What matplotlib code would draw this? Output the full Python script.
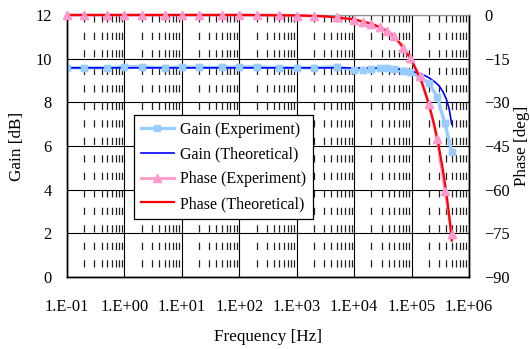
import matplotlib
matplotlib.use("Agg")
import matplotlib.pyplot as plt
from matplotlib.ticker import FixedLocator, NullFormatter, LogLocator

# ---- data ----
freq_exp = [0.1, 0.2, 0.5, 1, 2, 5, 10, 20, 50, 100, 200, 500, 1000, 2000, 5000,
            10000, 14000, 20000, 28000, 38000, 50000, 70000, 95000, 140000,
            200000, 280000, 380000, 500000]
gain_exp = [9.58, 9.58, 9.58, 9.63, 9.63, 9.58, 9.63, 9.60, 9.60, 9.63, 9.63, 9.58,
            9.58, 9.58, 9.63, 9.48, 9.48, 9.51, 9.56, 9.56, 9.51, 9.45, 9.40, 9.14,
            8.88, 8.25, 7.05, 5.73]
phase_exp = [0, 0, 0, 0, 0, 0, 0, 0, 0, 0, 0, 0, -0.2, -0.3, -0.6,
             -1.6, -2.4, -3.0, -4.2, -5.4, -7.1, -11.3, -14.8, -21.1,
             -30.6, -42.6, -60.4, -75.1]

freq_th = [0.1, 1, 10, 100, 1000, 3000, 10000, 20000, 30000, 50000, 60000, 70000,
           100000, 150000, 200000, 250000, 300000, 350000, 400000, 450000, 500000]
gain_th = [9.58, 9.58, 9.58, 9.58, 9.58, 9.58, 9.58, 9.58, 9.57, 9.54, 9.52, 9.50,
           9.43, 9.30, 9.13, 8.95, 8.76, 8.50, 8.17, 7.72, 7.00]
phase_th = [0, 0, 0, 0, -0.15, -0.45, -1.5, -3.0, -4.5, -7.6, -9.2, -10.8,
            -15.5, -23.0, -30.5, -38.0, -45.5, -53.0, -60.5, -68.5, -77.5]

x_ticks = [0.1, 1, 10, 100, 1000, 10000, 100000, 1000000]
x_ticklabels = ["1.E-01", "1.E+00", "1.E+01", "1.E+02", "1.E+03", "1.E+04", "1.E+05", "1.E+06"]
gain_ticks = [0, 2, 4, 6, 8, 10, 12]
phase_ticks = [-90, -75, -60, -45, -30, -15, 0]

plt.rcParams['font.family'] = ['Liberation Serif', 'DejaVu Serif']
FS = 11.8

fig = plt.figure(figsize=(5.30, 3.49), dpi=100)
ax = fig.add_axes([67/530, 1-277/349, 402/530, 262/349])
ax2 = ax.twinx()

ax.set_xscale('log')
ax.set_xlim(0.1, 1e6)
ax.set_ylim(0, 12)
ax2.set_ylim(-90, 0)

ax.xaxis.set_major_locator(FixedLocator(x_ticks))
ax.set_xticklabels(x_ticklabels)
ax.xaxis.set_minor_locator(LogLocator(base=10, subs=[2, 3, 4, 5, 6, 7, 8, 9], numticks=20))
ax.xaxis.set_minor_formatter(NullFormatter())
ax.set_yticks(gain_ticks)
ax2.set_yticks(phase_ticks)

ax.tick_params(axis='both', which='both', length=0, labelsize=FS)
ax.tick_params(axis='x', pad=16)
ax.tick_params(axis='y', pad=11)
ax2.tick_params(axis='y', length=0, labelsize=FS, pad=11)

# grids
ax.grid(True, which='major', axis='both', color='black', lw=0.8, ls='-')
ax.grid(True, which='minor', axis='x', color='#222222', lw=0.9,
        ls=(6.0, (5.8, 8.2)))
ax.set_axisbelow(True)

for s in ['left', 'bottom', 'right']:
    ax.spines[s].set_color('black'); ax.spines[s].set_linewidth(1.0)
    ax2.spines[s].set_color('black'); ax2.spines[s].set_linewidth(1.0)
ax.spines['top'].set_color('#909090'); ax2.spines['top'].set_color('#909090')

# series
l1, = ax.plot(freq_exp, gain_exp, color='#99CCFF', lw=2.4, marker='s', ms=5,
              mec='#99CCFF', mfc='#99CCFF', zorder=2, label='Gain (Experiment)')
l2, = ax.plot(freq_th, gain_th, color='#0000FF', lw=1.2, zorder=3, label='Gain (Theoretical)')
ax.plot(freq_exp, gain_exp, ls='none', marker='s', ms=5, mec='#99CCFF', mfc='#99CCFF', zorder=4)

l3, = ax2.plot(freq_exp, phase_exp, color='#FF99CC', lw=2.0, marker='^', ms=6,
               mec='#FF99CC', mfc='#FF99CC', zorder=2, label='Phase (Experiment)', clip_on=False)
l4, = ax2.plot(freq_th, phase_th, color='#FF0000', lw=1.6, zorder=3, label='Phase (Theoretical)', clip_on=False)
ax2.plot(freq_exp, phase_exp, ls='none', marker='^', ms=6, mec='#FF99CC', mfc='#FF99CC',
         zorder=4, clip_on=False)

leg = ax2.legend(handles=[l1, l2, l3, l4], loc='upper left',
                 bbox_to_anchor=((134-67)/402, (277-115)/262), borderaxespad=0,
                 fontsize=11.5, frameon=True, fancybox=False, framealpha=1,
                 edgecolor='black', handlelength=2.1, handletextpad=0.35,
                 labelspacing=0.55, borderpad=0.42)
leg.get_frame().set_linewidth(0.9)
leg.set_zorder(10)

fig.text(17/530, 1-146/349, 'Gain [dB]', rotation=90, ha='center', va='center', fontsize=12.3)
fig.text(522/530, 1-146/349, 'Phase [deg]', rotation=90, ha='center', va='center', fontsize=12.3)
fig.text(268/530, 1-337/349, 'Frequency [Hz]', ha='center', va='center', fontsize=12.3)

fig.savefig('out.png', dpi=100)
